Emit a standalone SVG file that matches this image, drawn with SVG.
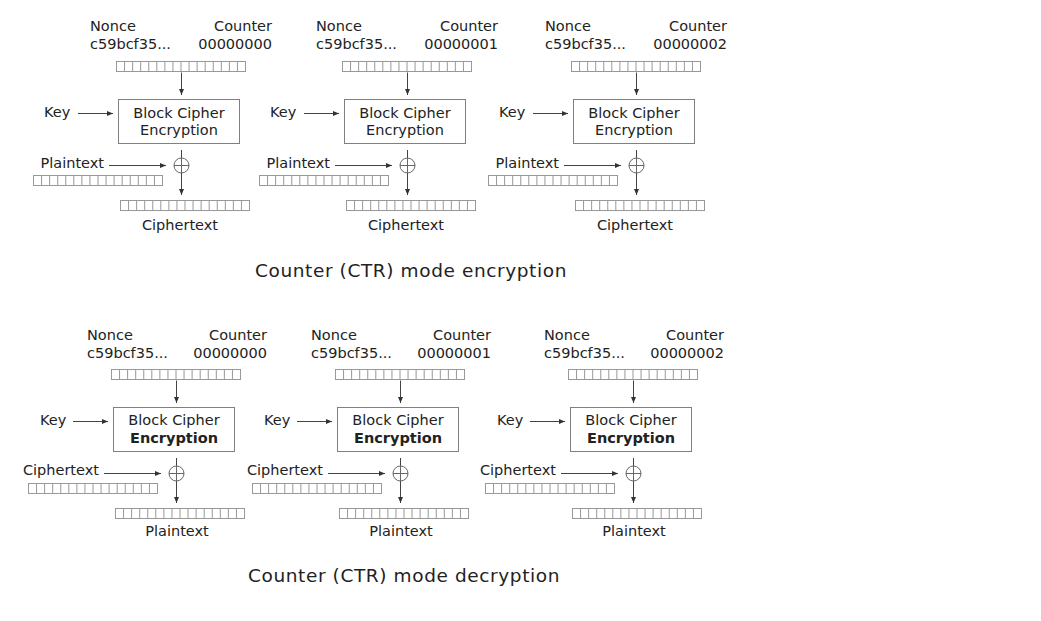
<svg xmlns="http://www.w3.org/2000/svg" xmlns:xlink="http://www.w3.org/1999/xlink" width="1041" height="621" viewBox="0 0 1041 621">
<style>
text{font-family:"DejaVu Sans","Liberation Sans",sans-serif;font-size:14.5px;fill:#222}
.t{font-size:18.5px;letter-spacing:0.6px}
.b{font-weight:bold}
.m{text-anchor:middle}
.e{text-anchor:end}
.box{fill:#fff;stroke:#808080;stroke-width:1}
.bar{fill:#fff;stroke:#999;stroke-width:1}
.cell{fill:none;stroke:#999;stroke-width:1}
.cn{fill:none;stroke:#444;stroke-width:1;marker-end:url(#ah)}
.xor{fill:none;stroke:#666;stroke-width:1}
</style>
<defs>
<marker id="ah" markerUnits="userSpaceOnUse" markerWidth="7" markerHeight="6" refX="6" refY="3" orient="auto">
<path d="M0,0.5 L6,3 L0,5.5 z" fill="#333"/>
</marker>
<g id="bar">
<rect class="bar" x="0.5" y="0.5" width="129" height="10"/>
<path class="cell" d="M8.56,0.5v10M16.62,0.5v10M24.69,0.5v10M32.75,0.5v10M40.81,0.5v10M48.87,0.5v10M56.94,0.5v10M65,0.5v10M73.06,0.5v10M81.12,0.5v10M89.19,0.5v10M97.25,0.5v10M105.31,0.5v10M113.37,0.5v10M121.44,0.5v10"/>
</g>
<g id="arrows">
<path class="cn" d="M181.5,72.5V95"/>
<path class="cn" d="M78,113.5H113"/>
<path class="cn" d="M109,165.5H166"/>
<path class="cn" d="M181.5,150V195"/>
</g>
</defs>
<rect width="1041" height="621" fill="#fff"/>

<g id="connectors">
<use id="c-enc1" xlink:href="#arrows"/>
<use id="c-enc2" xlink:href="#arrows" transform="translate(226,0)"/>
<use id="c-enc3" xlink:href="#arrows" transform="translate(455,0)"/>
<use id="c-dec1" xlink:href="#arrows" transform="translate(-5,308)"/>
<use id="c-dec2" xlink:href="#arrows" transform="translate(219,308)"/>
<use id="c-dec3" xlink:href="#arrows" transform="translate(452,308)"/>
</g>

<!-- Encryption unit 1 -->
<g id="enc1-counter"><text x="90" y="31">Nonce</text><text class="e" x="272" y="31">Counter</text><text x="90" y="49">c59bcf35...</text><text class="e" x="272" y="49">00000000</text><use xlink:href="#bar" x="116" y="61"/></g>
<g id="enc1-cipher"><rect class="box" x="118.5" y="99.5" width="121" height="44"/><text class="m" x="179" y="118">Block Cipher</text><text class="m" x="179" y="135">Encryption</text></g>
<g id="enc1-key"><text x="44" y="117">Key</text></g>
<g id="enc1-input"><text class="e" x="104" y="168">Plaintext</text><use xlink:href="#bar" x="33" y="175"/></g>
<g id="enc1-xor"><circle class="xor" cx="181.5" cy="165.5" r="7.5"/><path class="xor" d="M174,165.5H189M181.5,158V173"/></g>
<g id="enc1-output"><use xlink:href="#bar" x="120" y="200"/><text class="m" x="180" y="230">Ciphertext</text></g>

<!-- Encryption unit 2 -->
<g transform="translate(226,0)">
<g id="enc2-counter"><text x="90" y="31">Nonce</text><text class="e" x="272" y="31">Counter</text><text x="90" y="49">c59bcf35...</text><text class="e" x="272" y="49">00000001</text><use xlink:href="#bar" x="116" y="61"/></g>
<g id="enc2-cipher"><rect class="box" x="118.5" y="99.5" width="121" height="44"/><text class="m" x="179" y="118">Block Cipher</text><text class="m" x="179" y="135">Encryption</text></g>
<g id="enc2-key"><text x="44" y="117">Key</text></g>
<g id="enc2-input"><text class="e" x="104" y="168">Plaintext</text><use xlink:href="#bar" x="33" y="175"/></g>
<g id="enc2-xor"><circle class="xor" cx="181.5" cy="165.5" r="7.5"/><path class="xor" d="M174,165.5H189M181.5,158V173"/></g>
<g id="enc2-output"><use xlink:href="#bar" x="120" y="200"/><text class="m" x="180" y="230">Ciphertext</text></g>
</g>

<!-- Encryption unit 3 -->
<g transform="translate(455,0)">
<g id="enc3-counter"><text x="90" y="31">Nonce</text><text class="e" x="272" y="31">Counter</text><text x="90" y="49">c59bcf35...</text><text class="e" x="272" y="49">00000002</text><use xlink:href="#bar" x="116" y="61"/></g>
<g id="enc3-cipher"><rect class="box" x="118.5" y="99.5" width="121" height="44"/><text class="m" x="179" y="118">Block Cipher</text><text class="m" x="179" y="135">Encryption</text></g>
<g id="enc3-key"><text x="44" y="117">Key</text></g>
<g id="enc3-input"><text class="e" x="104" y="168">Plaintext</text><use xlink:href="#bar" x="33" y="175"/></g>
<g id="enc3-xor"><circle class="xor" cx="181.5" cy="165.5" r="7.5"/><path class="xor" d="M174,165.5H189M181.5,158V173"/></g>
<g id="enc3-output"><use xlink:href="#bar" x="120" y="200"/><text class="m" x="180" y="230">Ciphertext</text></g>
</g>

<text id="enc-title" class="t" x="255" y="277">Counter (CTR) mode encryption</text>

<!-- Decryption unit 1 -->
<g transform="translate(-5,308)">
<g id="dec1-counter"><text x="92" y="32">Nonce</text><text class="e" x="272" y="32">Counter</text><text x="92" y="50">c59bcf35...</text><text class="e" x="272" y="50">00000000</text><use xlink:href="#bar" x="116" y="61"/></g>
<g id="dec1-cipher"><rect class="box" x="118.5" y="99.5" width="121" height="44"/><text class="m" x="179" y="117">Block Cipher</text><text class="m b" x="179" y="134.5">Encryption</text></g>
<g id="dec1-key"><text x="45" y="117">Key</text></g>
<g id="dec1-input"><text class="e" x="104" y="167">Ciphertext</text><use xlink:href="#bar" x="33" y="175"/></g>
<g id="dec1-xor"><circle class="xor" cx="181.5" cy="165.5" r="7.5"/><path class="xor" d="M174,165.5H189M181.5,158V173"/></g>
<g id="dec1-output"><use xlink:href="#bar" x="120" y="200"/><text class="m" x="182" y="228">Plaintext</text></g>
</g>

<!-- Decryption unit 2 -->
<g transform="translate(219,308)">
<g id="dec2-counter"><text x="92" y="32">Nonce</text><text class="e" x="272" y="32">Counter</text><text x="92" y="50">c59bcf35...</text><text class="e" x="272" y="50">00000001</text><use xlink:href="#bar" x="116" y="61"/></g>
<g id="dec2-cipher"><rect class="box" x="118.5" y="99.5" width="121" height="44"/><text class="m" x="179" y="117">Block Cipher</text><text class="m b" x="179" y="134.5">Encryption</text></g>
<g id="dec2-key"><text x="45" y="117">Key</text></g>
<g id="dec2-input"><text class="e" x="104" y="167">Ciphertext</text><use xlink:href="#bar" x="33" y="175"/></g>
<g id="dec2-xor"><circle class="xor" cx="181.5" cy="165.5" r="7.5"/><path class="xor" d="M174,165.5H189M181.5,158V173"/></g>
<g id="dec2-output"><use xlink:href="#bar" x="120" y="200"/><text class="m" x="182" y="228">Plaintext</text></g>
</g>

<!-- Decryption unit 3 -->
<g transform="translate(452,308)">
<g id="dec3-counter"><text x="92" y="32">Nonce</text><text class="e" x="272" y="32">Counter</text><text x="92" y="50">c59bcf35...</text><text class="e" x="272" y="50">00000002</text><use xlink:href="#bar" x="116" y="61"/></g>
<g id="dec3-cipher"><rect class="box" x="118.5" y="99.5" width="121" height="44"/><text class="m" x="179" y="117">Block Cipher</text><text class="m b" x="179" y="134.5">Encryption</text></g>
<g id="dec3-key"><text x="45" y="117">Key</text></g>
<g id="dec3-input"><text class="e" x="104" y="167">Ciphertext</text><use xlink:href="#bar" x="33" y="175"/></g>
<g id="dec3-xor"><circle class="xor" cx="181.5" cy="165.5" r="7.5"/><path class="xor" d="M174,165.5H189M181.5,158V173"/></g>
<g id="dec3-output"><use xlink:href="#bar" x="120" y="200"/><text class="m" x="182" y="228">Plaintext</text></g>
</g>

<text id="dec-title" class="t" x="248" y="582">Counter (CTR) mode decryption</text>
</svg>
